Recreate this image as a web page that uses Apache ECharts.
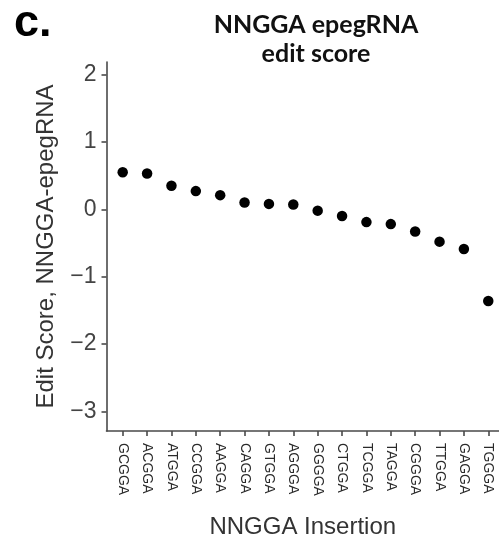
<!DOCTYPE html>
<html>
<head>
<meta charset="utf-8">
<script src="https://cdn.jsdelivr.net/npm/echarts@6/dist/echarts.min.js"></script>
<style>
  html, body { margin: 0; padding: 0; background: #fff; }
  #chart { width: 499px; height: 539px; }
</style>
</head>
<body>
<div id="chart"></div>
<script>
// NNGGA insertions, ordered by epegRNA edit score
const insertions = ['GCGGA', 'ACGGA', 'ATGGA', 'CCGGA', 'AAGGA', 'CAGGA', 'GTGGA', 'AGGGA',
                    'GGGGA', 'CTGGA', 'TCGGA', 'TAGGA', 'CGGGA', 'TTGGA', 'GAGGA', 'TGGGA'];
const editScores = [0.55, 0.53, 0.35, 0.27, 0.21, 0.10, 0.08, 0.07,
                    -0.02, -0.10, -0.19, -0.22, -0.33, -0.48, -0.59, -1.36];
const yTicks = [-3, -2, -1, 0, 1, 2];

const axisFont = "'Liberation Sans', Arial, Helvetica, sans-serif";
const axisColor = '#4a4a4a';

const chart = echarts.init(document.getElementById('chart'), null, { renderer: 'canvas' });

chart.setOption({
  animation: false,
  backgroundColor: '#ffffff',
  title: [
    {
      text: 'NNGGA epegRNA\nedit score',
      left: 311,
      top: 5,
      textAlign: 'center',
      textStyle: {
        fontFamily: 'Lato, "Open Sans", sans-serif',
        fontWeight: 'bold',
        fontSize: 25,
        lineHeight: 29,
        color: '#111'
      }
    },
    {
      text: 'c.',
      left: 9,
      top: -4,
      textStyle: {
        fontFamily: "'Liberation Sans', Arial, sans-serif",
        fontWeight: 'bold',
        fontSize: 45,
        color: '#000'
      }
    }
  ],
  // fixed plot rectangle; labels and names sit outside it
  grid: { left: 106.5, right: 0, top: 62, bottom: 108, containLabel: false, outerBoundsMode: 'none' },
  xAxis: {
    type: 'value',
    min: -0.665,
    max: 15.44,
    name: 'NNGGA Insertion',
    nameLocation: 'middle',
    nameGap: 84,
    nameTextStyle: { fontFamily: axisFont, fontSize: 24, color: '#333' },
    splitLine: { show: false },
    axisLine: { show: true, onZero: false, lineStyle: { color: axisColor, width: 1.6 } },
    axisTick: {
      show: true, length: 5, inside: false,
      customValues: insertions.map((_, i) => i),
      lineStyle: { color: axisColor, width: 1.6 }
    },
    axisLabel: {
      show: true,
      customValues: insertions.map((_, i) => i),
      rotate: -90,
      margin: 12,
      fontFamily: axisFont,
      fontSize: 14,
      color: '#2a2a2a',
      formatter: v => insertions[Math.round(v)] || ''
    }
  },
  yAxis: {
    type: 'value',
    min: -3.289,
    max: 2.185,
    name: 'Edit Score, NNGGA-epegRNA',
    nameLocation: 'middle',
    nameGap: 48,
    nameTextStyle: { fontFamily: axisFont, fontSize: 24, color: '#333' },
    splitLine: { show: false },
    axisLine: { show: true, onZero: false, lineStyle: { color: axisColor, width: 1.6 } },
    axisTick: {
      show: true, length: 5,
      customValues: yTicks,
      lineStyle: { color: axisColor, width: 1.6 }
    },
    axisLabel: {
      customValues: yTicks,
      margin: 10,
      fontFamily: axisFont,
      fontSize: 23,
      color: '#444',
      formatter: v => (v < 0 ? '\u2212' + Math.abs(v) : String(v))
    }
  },
  series: [{
    type: 'scatter',
    data: editScores.map((s, i) => [i, s]),
    symbol: 'circle',
    symbolSize: 10.5,
    itemStyle: { color: '#000', opacity: 1 },
    clip: false
  }]
});
</script>
</body>
</html>
